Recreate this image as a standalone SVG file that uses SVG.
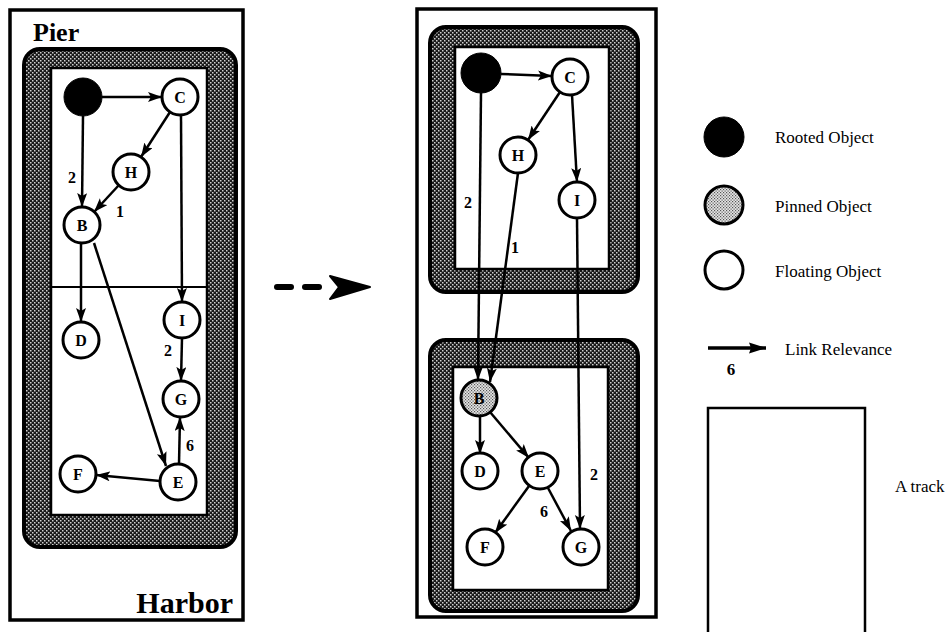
<svg xmlns="http://www.w3.org/2000/svg" width="950" height="632" viewBox="0 0 950 632">
<defs>
<pattern id="stip" width="4" height="4" patternUnits="userSpaceOnUse">
<rect width="4" height="4" fill="#1a1a1a"/>
<rect x="0" y="0" width="1.5" height="1.5" fill="#d0d0d0"/>
<rect x="2" y="2" width="1.5" height="1.5" fill="#d0d0d0"/>
</pattern>
<pattern id="pin" width="3" height="3" patternUnits="userSpaceOnUse">
<rect width="3" height="3" fill="#e6e6e6"/>
<rect x="0" y="0" width="1.2" height="1.2" fill="#555"/>
<rect x="1.5" y="1.5" width="1.2" height="1.2" fill="#555"/>
</pattern>
<marker id="ah" markerWidth="15" markerHeight="11" refX="14" refY="5" orient="auto" markerUnits="userSpaceOnUse">
<path d="M0,0 L14,5 L0,10 L3,5 z" fill="#000"/>
</marker>
<marker id="ahb" markerWidth="18" markerHeight="12" refX="17" refY="6" orient="auto" markerUnits="userSpaceOnUse">
<path d="M0,0.5 L17,6 L0,11.5 L2,6 z" fill="#000"/>
</marker>
</defs>
<style>
.panel{fill:#fff;stroke:#000;stroke-width:3.5}
.band{fill:url(#stip);stroke:#000;stroke-width:4}
.inner{fill:#fff;stroke:#000;stroke-width:2.5}
.nd{fill:#fff;stroke:#000;stroke-width:3}
.root{fill:#000;stroke:#000;stroke-width:1}
.pinned{fill:url(#pin);stroke:#000;stroke-width:3}
.lt{font-family:"Liberation Serif","Times New Roman",serif;font-weight:bold;font-size:16px;text-anchor:middle;fill:#000}
.el{font-family:"Liberation Serif","Times New Roman",serif;font-weight:bold;font-size:16px;text-anchor:middle;fill:#000}
.big{font-family:"Liberation Serif","Times New Roman",serif;font-weight:bold;fill:#000}
.leg{font-family:"Liberation Serif","Times New Roman",serif;font-size:17px;fill:#000}
.e{stroke:#000;stroke-width:2.5;fill:none;marker-end:url(#ah)}
.ln{stroke:#000;stroke-width:2;fill:none}
</style>

<!-- Left panel: Pier / Harbor -->
<g id="left-panel">
<rect class="panel" x="10" y="10" width="233" height="610"/>
<text class="big" x="33" y="41" font-size="26">Pier</text>
<text class="big" x="233" y="613" font-size="30" text-anchor="end">Harbor</text>
<rect class="band" x="24" y="49" width="212" height="498" rx="16"/>
<rect class="inner" x="51" y="68" width="156" height="447"/>
<line class="ln" x1="51" y1="287" x2="207" y2="287"/>
</g>

<!-- Right panel -->
<g id="right-panel">
<rect class="panel" x="417" y="9" width="239" height="608"/>
<rect class="band" x="430" y="27" width="208" height="265" rx="16"/>
<rect class="inner" x="455" y="47" width="154" height="222"/>
<rect class="band" x="430" y="340" width="208" height="271" rx="16"/>
<rect class="inner" x="453" y="367" width="155" height="223"/>
</g>

<!-- Transition arrow -->
<g id="transition-arrow">
<line x1="277" y1="287" x2="291" y2="287" stroke="#000" stroke-width="6" stroke-linecap="round"/>
<line x1="305" y1="287" x2="319" y2="287" stroke="#000" stroke-width="6" stroke-linecap="round"/>
<polygon points="330,276 370,287 330,299 339,287" fill="#000" stroke="#000" stroke-width="2" stroke-linejoin="round"/>
</g>

<!-- Connectors -->
<g id="connectors">
<!-- left -->
<line class="e" x1="102" y1="97" x2="162" y2="97"/>
<line class="e" x1="170" y1="112" x2="141" y2="157"/>
<line class="e" x1="83" y1="116" x2="82" y2="207"/>
<line class="e" x1="119" y1="185" x2="94" y2="212"/>
<line class="e" x1="181" y1="115" x2="182" y2="302"/>
<line class="e" x1="81" y1="243" x2="81" y2="322"/>
<line class="e" x1="94" y1="243" x2="166" y2="466"/>
<line class="e" x1="182" y1="338" x2="181" y2="381"/>
<line class="e" x1="179" y1="464" x2="180" y2="417"/>
<line class="e" x1="160" y1="481" x2="96" y2="475"/>
<!-- right -->
<line class="e" x1="501" y1="74" x2="552" y2="76"/>
<line class="e" x1="560" y1="92" x2="528" y2="140"/>
<line class="e" x1="572" y1="95" x2="577" y2="182"/>
<line class="e" x1="481" y1="93" x2="478" y2="380"/>
<line class="e" x1="518" y1="173" x2="490" y2="382"/>
<line class="e" x1="577" y1="218" x2="580" y2="529"/>
<line class="e" x1="480" y1="416" x2="480" y2="454"/>
<line class="e" x1="490" y1="412" x2="529" y2="458"/>
<line class="e" x1="529" y1="486" x2="495" y2="533"/>
<line class="e" x1="548" y1="488" x2="571" y2="531"/>
<!-- edge labels -->
<text class="el" x="72" y="183">2</text>
<text class="el" x="120" y="217">1</text>
<text class="el" x="168" y="356">2</text>
<text class="el" x="190" y="451">6</text>
<text class="el" x="468" y="208">2</text>
<text class="el" x="515" y="253">1</text>
<text class="el" x="594" y="480">2</text>
<text class="el" x="544" y="517">6</text>
</g>

<!-- Left nodes -->
<g id="L-root"><circle class="root" cx="83" cy="97" r="19"/></g>
<g id="L-C"><circle class="nd" cx="180" cy="97" r="18"/><text class="lt" x="180" y="102.5">C</text></g>
<g id="L-H"><circle class="nd" cx="131" cy="172" r="18"/><text class="lt" x="131" y="177.5">H</text></g>
<g id="L-B"><circle class="nd" cx="82" cy="225" r="18"/><text class="lt" x="82" y="230.5">B</text></g>
<g id="L-I"><circle class="nd" cx="182" cy="320" r="18"/><text class="lt" x="182" y="325.5">I</text></g>
<g id="L-D"><circle class="nd" cx="81" cy="340" r="18"/><text class="lt" x="81" y="345.5">D</text></g>
<g id="L-G"><circle class="nd" cx="181" cy="399" r="18"/><text class="lt" x="181" y="404.5">G</text></g>
<g id="L-E"><circle class="nd" cx="178" cy="482" r="18"/><text class="lt" x="178" y="487.5">E</text></g>
<g id="L-F"><circle class="nd" cx="78" cy="474" r="18"/><text class="lt" x="78" y="479.5">F</text></g>

<!-- Right nodes -->
<g id="R-root"><circle class="root" cx="481" cy="73" r="20"/></g>
<g id="R-C"><circle class="nd" cx="570" cy="77" r="18"/><text class="lt" x="570" y="82.5">C</text></g>
<g id="R-H"><circle class="nd" cx="518" cy="155" r="18"/><text class="lt" x="518" y="160.5">H</text></g>
<g id="R-I"><circle class="nd" cx="577" cy="200" r="18"/><text class="lt" x="577" y="205.5">I</text></g>
<g id="R-B"><circle class="pinned" cx="479" cy="398" r="18"/><text class="lt" x="479" y="403.5">B</text></g>
<g id="R-D"><circle class="nd" cx="480" cy="471" r="18"/><text class="lt" x="480" y="476.5">D</text></g>
<g id="R-E"><circle class="nd" cx="540" cy="471" r="18"/><text class="lt" x="540" y="476.5">E</text></g>
<g id="R-F"><circle class="nd" cx="485" cy="547" r="18"/><text class="lt" x="485" y="552.5">F</text></g>
<g id="R-G"><circle class="nd" cx="581" cy="547" r="18"/><text class="lt" x="581" y="552.5">G</text></g>

<!-- Legend -->
<g id="legend-rooted"><circle class="root" cx="724" cy="137" r="20"/><text class="leg" x="775" y="143">Rooted Object</text></g>
<g id="legend-pinned"><circle class="pinned" cx="724" cy="205" r="19"/><text class="leg" x="775" y="212">Pinned Object</text></g>
<g id="legend-floating"><circle class="nd" cx="724" cy="270" r="19"/><text class="leg" x="775" y="277">Floating Object</text></g>
<g id="legend-link">
<line x1="708" y1="348" x2="766" y2="348" stroke="#000" stroke-width="3.5" marker-end="url(#ahb)"/>
<text class="leg" x="731" y="375" font-weight="bold" text-anchor="middle">6</text>
<text class="leg" x="785" y="355">Link Relevance</text>
</g>
<g id="legend-track">
<path d="M708,632 V408 H865 V632" fill="none" stroke="#000" stroke-width="2.5"/>
<text class="leg" x="895" y="492">A track</text>
</g>
</svg>
